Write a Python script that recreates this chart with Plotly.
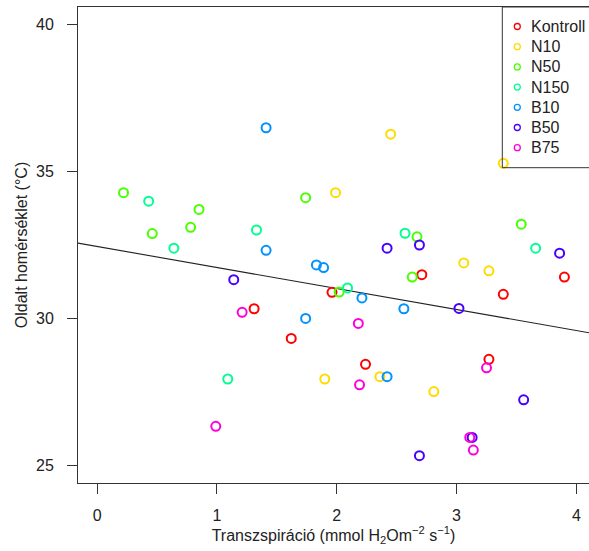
import plotly.graph_objects as go

# ---- data ----
groups = ["Kontroll", "N10", "N50", "N150", "B10", "B50", "B75"]
colors = ["#FF0000", "#FFDB00", "#49FF00", "#00FF92", "#0092FF", "#4900FF", "#FF00DB"]

kontroll_x = [1.31, 1.62, 1.96, 2.24, 2.71, 3.27, 3.39, 3.90]
kontroll_y = [30.33, 29.32, 30.89, 28.44, 31.49, 28.61, 30.82, 31.41]

n10_x = [2.45, 3.39, 1.99, 3.06, 3.27, 1.90, 2.36, 2.81]
n10_y = [36.27, 35.28, 34.28, 31.89, 31.62, 27.94, 28.02, 27.51]

n50_x = [0.22, 0.85, 0.46, 0.78, 1.74, 3.54, 2.67, 2.63, 2.02]
n50_y = [34.28, 33.71, 32.89, 33.10, 34.11, 33.21, 32.78, 31.41, 30.90]

n150_x = [0.43, 0.64, 1.33, 1.09, 2.57, 3.66, 2.09]
n150_y = [33.99, 32.39, 33.01, 27.94, 32.90, 32.39, 31.04]

b10_x = [1.41, 1.41, 1.83, 1.89, 1.74, 2.21, 2.56, 2.42]
b10_y = [36.49, 32.32, 31.82, 31.73, 30.00, 30.70, 30.33, 28.02]

b50_x = [1.14, 2.42, 2.69, 3.86, 3.02, 3.56, 3.13, 2.69]
b50_y = [31.32, 32.39, 32.50, 32.22, 30.34, 27.23, 25.95, 25.33]

b75_x = [1.21, 0.99, 2.18, 2.19, 3.25, 3.11, 3.14]
b75_y = [30.21, 26.33, 29.83, 27.74, 28.32, 25.95, 25.52]

fit_intercept = 32.45
fit_slope = -0.715

x_ticks = [0, 1, 2, 3, 4]
y_ticks = [25, 30, 35, 40]

x_title = "Transzspiráció (mmol H<sub>2</sub>Om<sup>−2</sup> s<sup>−1</sup>)"
y_title = "Oldalt homérséklet (°C)"

series_x = [kontroll_x, n10_x, n50_x, n150_x, b10_x, b50_x, b75_x]
series_y = [kontroll_y, n10_y, n50_y, n150_y, b10_y, b50_y, b75_y]

# ---- layout geometry (pixels) ----
W, H = 589, 551
ML, MR, MT, MB = 78, 0, 7, 68
PW, PH = W - ML - MR, H - MT - MB
FONT = "Liberation Sans, Arial, sans-serif"
TXT = "#222222"
LINE = "#333333"


def px_x(p):
    return (p - ML) / PW


def px_y(p):
    return (H - MB - p) / PH


fig = go.Figure()

# regression line across the full axis range
line_x = [-0.16, 4.16]
line_y = [fit_intercept + fit_slope * v for v in line_x]
fig.add_trace(go.Scatter(x=line_x, y=line_y, mode="lines",
                         line=dict(color="#222222", width=1.1),
                         showlegend=False, hoverinfo="skip"))

for name, col, xs, ys in zip(groups, colors, series_x, series_y):
    fig.add_trace(go.Scatter(
        x=xs, y=ys, mode="markers", name=name, showlegend=False,
        marker=dict(symbol="circle-open", size=9, color=col,
                    line=dict(color=col, width=2)),
    ))

# legend box drawn in R style (top-right, touching plot border)
shapes = [dict(type="rect", xref="paper", yref="paper",
               x0=px_x(502.3), x1=1.05, y0=px_y(167.7), y1=1.0,
               line=dict(color=LINE, width=1), fillcolor="rgba(0,0,0,0)",
               layer="above")]
annotations = []
for i, (name, col) in enumerate(zip(groups, colors)):
    cy = px_y(26.5 + 20.2 * i)
    shapes.append(dict(type="circle", xref="paper", yref="paper",
                       xsizemode="pixel", ysizemode="pixel",
                       xanchor=px_x(517.3), yanchor=cy,
                       x0=-3, x1=3, y0=-3, y1=3,
                       line=dict(color=col, width=1.3)))
    annotations.append(dict(text=name, xref="paper", yref="paper",
                            x=px_x(528.5), y=cy, xanchor="left", yanchor="middle",
                            showarrow=False,
                            font=dict(family=FONT, size=16, color=TXT)))

fig.update_layout(
    width=W, height=H,
    margin=dict(l=ML, r=MR, t=MT, b=MB, autoexpand=False),
    paper_bgcolor="white", plot_bgcolor="white",
    font=dict(family=FONT, size=16, color=TXT),
    shapes=shapes, annotations=annotations,
    showlegend=False,
)
fig.update_xaxes(
    range=[-0.16, -0.16 + PW / 119.8], tickvals=x_ticks,
    showgrid=False, zeroline=False, showline=True, mirror=True,
    linecolor=LINE, linewidth=1, ticks="outside", ticklen=10,
    tickcolor=LINE, tickwidth=1, ticklabelstandoff=8,
    tickfont=dict(family=FONT, size=16, color=TXT),
    title=dict(text=x_title, standoff=4, font=dict(family=FONT, size=16, color=TXT)),
    automargin=False,
)
fig.update_yaxes(
    range=[24.4, 40.6], tickvals=y_ticks,
    showgrid=False, zeroline=False, showline=True, mirror=False,
    linecolor=LINE, linewidth=1, ticks="outside", ticklen=10,
    tickcolor=LINE, tickwidth=1, ticklabelstandoff=10,
    tickfont=dict(family=FONT, size=16, color=TXT),
    title=dict(text=y_title, standoff=4, font=dict(family=FONT, size=16, color=TXT)),
    automargin=False,
)

fig.write_html("out.html", config={"displayModeBar": False},
               post_script="document.body.style.margin='0px';")
